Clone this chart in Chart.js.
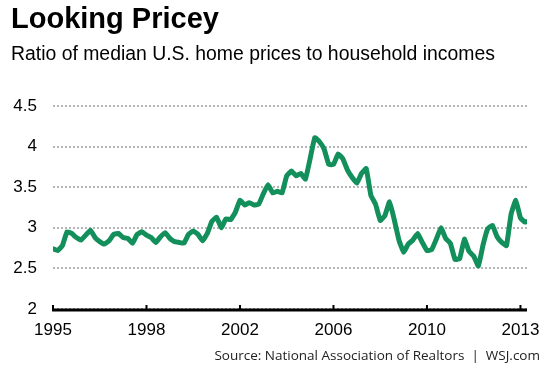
<!DOCTYPE html>
<html>
<head>
<meta charset="utf-8">
<script src="https://cdn.jsdelivr.net/npm/chart.js@4.4.1/dist/chart.umd.min.js"></script>
<style>
  body { margin: 0; background: #fff; }
  #wrap { position: relative; width: 553px; height: 369px; overflow: hidden; font-family: "Liberation Sans", Arial, sans-serif; }
  #grafico { position: absolute; left: 0; top: 0; }
  .txt { position: absolute; white-space: nowrap; color: #000; }
  #titulo { left: 11px; top: 4px; font-size: 29px; line-height: 29px; font-weight: bold; }
  #subtitulo { left: 11px; top: 43px; font-size: 19.4px; line-height: 20px; }
  #fuente { right: 13px; top: 348px; font-size: 13.5px; line-height: 14px; font-family: "Open Sans", sans-serif; color: #222; }
</style>
</head>
<body>
<div id="wrap">
  <canvas id="grafico" width="553" height="369"></canvas>
  <div class="txt" id="titulo">Looking Pricey</div>
  <div class="txt" id="subtitulo">Ratio of median U.S. home prices to household incomes</div>
  <div class="txt" id="fuente">Source: National Association of Realtors &nbsp;|&nbsp; WSJ.com</div>
</div>
<script>
// Etiquetas del eje X (igualmente espaciadas en el original)
var etiquetasX = ['1995', '1998', '2002', '2006', '2010', '2013'];

// Etiquetas del eje Y
var valoresY = [2, 2.5, 3, 3.5, 4, 4.5];
var etiquetasY = ['2', '2.5', '3', '3.5', '4', '4.5'];

// Ratio precio mediano de vivienda / ingreso del hogar
// (puntos equiespaciados, 20 por cada intervalo entre etiquetas)
var ratio = [
  2.74, 2.72, 2.78, 2.95, 2.93, 2.88, 2.85, 2.91, 2.97, 2.88,
  2.83, 2.80, 2.84, 2.92, 2.93, 2.88, 2.87, 2.81, 2.92, 2.95,
  2.91, 2.88, 2.82, 2.89, 2.94, 2.87, 2.83, 2.82, 2.81, 2.92,
  2.96, 2.92, 2.84, 2.93, 3.08, 3.13, 3.00, 3.11, 3.10, 3.19,
  3.34, 3.28, 3.31, 3.28, 3.29, 3.42, 3.53, 3.43, 3.45, 3.43,
  3.64, 3.70, 3.64, 3.67, 3.60, 3.85, 4.11, 4.06, 3.97, 3.78,
  3.78, 3.91, 3.85, 3.71, 3.62, 3.55, 3.67, 3.73, 3.40, 3.29,
  3.09, 3.15, 3.32, 3.10, 2.85, 2.70, 2.80, 2.85, 2.93, 2.82,
  2.72, 2.73, 2.86, 3.00, 2.87, 2.81, 2.61, 2.62, 2.86, 2.71,
  2.65, 2.53, 2.79, 2.99, 3.03, 2.89, 2.82, 2.78, 3.17, 3.34,
  3.12, 3.07, 3.09
];
var puntosPorIntervalo = 20;

document.addEventListener('DOMContentLoaded', function() {
    var ctx = document.getElementById('grafico').getContext('2d');

    var datos = ratio.map(function(v, i) {
        return { x: i / puntosPorIntervalo, y: v };
    });

    // Linea negra del eje X con marcas hacia arriba
    var ejeX = {
        id: 'ejeX',
        afterDatasetsDraw: function(chart) {
            var area = chart.chartArea;
            var sx = chart.scales.x;
            var c = chart.ctx;
            c.save();
            c.strokeStyle = '#000';
            c.lineWidth = 3;
            c.beginPath();
            c.moveTo(area.left - 1, area.bottom + 1);
            c.lineTo(area.right, area.bottom + 1);
            c.stroke();
            c.lineWidth = 2;
            etiquetasX.forEach(function(e, i) {
                var px = sx.getPixelForValue(i);
                c.beginPath();
                c.moveTo(px, area.bottom + 1);
                c.lineTo(px, area.bottom - 4);
                c.stroke();
            });
            c.restore();
        }
    };

    new Chart(ctx, {
        type: 'line',
        data: {
            datasets: [{
                data: datos,
                borderColor: '#128f5a',
                borderWidth: 5,
                pointRadius: 0,
                tension: 0.1,
                borderJoinStyle: 'round',
                borderCapStyle: 'round',
                fill: false
            }]
        },
        options: {
            responsive: false,
            animation: false,
            layout: { padding: { top: 106, right: 26, left: 0, bottom: 0 } },
            plugins: { legend: { display: false }, tooltip: { enabled: false } },
            scales: {
                x: {
                    type: 'linear',
                    min: 0,
                    max: 5.07,
                    afterBuildTicks: function(s) {
                        s.ticks = etiquetasX.map(function(e, i) { return { value: i }; });
                    },
                    afterFit: function(s) { s.height = 60; },
                    grid: { display: false, drawTicks: false },
                    border: { display: false },
                    ticks: {
                        padding: 11,
                        color: '#000',
                        font: { family: 'Liberation Sans', size: 17 },
                        maxRotation: 0,
                        autoSkip: false,
                        callback: function(v) { return etiquetasX[v]; }
                    }
                },
                y: {
                    min: 2,
                    max: 4.5,
                    afterBuildTicks: function(s) {
                        s.ticks = valoresY.map(function(v) { return { value: v }; });
                    },
                    afterFit: function(s) { s.width = 53; },
                    grid: {
                        color: '#b5b5b5',
                        lineWidth: 2,
                        drawTicks: false
                    },
                    border: { display: false, dash: [2, 2] },
                    ticks: {
                        padding: 16,
                        color: '#000',
                        font: { family: 'Liberation Sans', size: 17 },
                        callback: function(v) { return etiquetasY[valoresY.indexOf(v)]; }
                    }
                }
            }
        },
        plugins: [ejeX]
    });
});
</script>
</body>
</html>
